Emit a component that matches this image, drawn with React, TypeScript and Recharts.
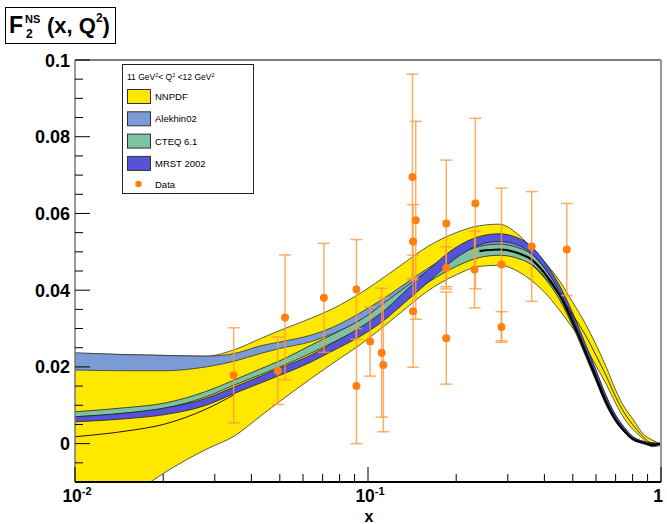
/*
 * F2^NS(x, Q^2) comparison of PDF sets (NNPDF, Alekhin02, CTEQ 6.1, MRST 2002)
 * against data, 11 GeV^2 < Q^2 < 12 GeV^2. Log x axis, uncertainty bands.
 */
import {
  Area,
  ComposedChart,
  ErrorBar,
  Line,
  ReferenceLine,
  Scatter,
  XAxis,
  YAxis,
} from 'recharts';

const FONT = '"Liberation Sans", Arial, Helvetica, sans-serif';
const PLOT_LEFT = 75;
const PLOT_BOTTOM = 482;

// x grid shared by all bands
const xGrid = [
  0.01, 0.015, 0.02, 0.028, 0.035, 0.043, 0.05, 0.064, 0.075, 0.1, 0.115, 0.13, 0.16, 0.2,
  0.24, 0.28, 0.33, 0.36, 0.4, 0.45, 0.5, 0.55, 0.6, 0.65, 0.7, 0.75, 0.8, 0.87, 0.93, 1.0,
];

const nnpdfLo = [
  -0.025, -0.0145, -0.0078, -0.0015, 0.002, 0.0072, 0.011, 0.017, 0.0207, 0.0273, 0.031,
  0.0343, 0.0398, 0.044, 0.0462, 0.0465, 0.0446, 0.0426, 0.0395, 0.0348, 0.0301, 0.0255,
  0.0203, 0.0155, 0.0105, 0.0065, 0.0038, 0.0012, -0.0008, -0.0005,
];
const nnpdfHi = [
  0.0235, 0.0232, 0.023, 0.0228, 0.0245, 0.0274, 0.0295, 0.0327, 0.035, 0.0405, 0.0437,
  0.0466, 0.0514, 0.055, 0.0568, 0.0572, 0.0541, 0.0512, 0.0474, 0.0425, 0.0368, 0.0315,
  0.0258, 0.02, 0.014, 0.0095, 0.0065, 0.0025, 0.001, 0.0,
];

const alekhinLo = [
  0.0192, 0.019, 0.019, 0.02, 0.0215, 0.0235, 0.0248, 0.0266, 0.0285, 0.0333, 0.0362,
  0.039, 0.0435, 0.048, 0.0505, 0.0512, 0.0502, 0.0486, 0.0448, 0.0388, 0.0318, 0.0245,
  0.0178, 0.0112, 0.0065, 0.0035, 0.0014, 0.0003, 0.0, 0.0,
];
const alekhinHi = [
  0.0237, 0.0232, 0.023, 0.0228, 0.0235, 0.0255, 0.0265, 0.0283, 0.0302, 0.0353, 0.0382,
  0.041, 0.0457, 0.05, 0.0524, 0.053, 0.052, 0.0503, 0.0465, 0.0404, 0.0332, 0.0258,
  0.019, 0.0122, 0.0073, 0.0042, 0.0019, 0.0006, 0.0002, 0.0,
];

const cteqLo = [
  0.007, 0.008, 0.0092, 0.0122, 0.0153, 0.018, 0.02, 0.0236, 0.0262, 0.031, 0.0343, 0.0373,
  0.042, 0.0462, 0.0485, 0.0491, 0.0481, 0.0467, 0.0432, 0.0376, 0.0306, 0.0232, 0.0163,
  0.01, 0.0057, 0.003, 0.0011, 0.0002, 0.0, 0.0,
];
const cteqHi = [
  0.0083, 0.0094, 0.0105, 0.0136, 0.0166, 0.0195, 0.0216, 0.0257, 0.0283, 0.0335, 0.037,
  0.04, 0.045, 0.0492, 0.0514, 0.052, 0.0509, 0.0495, 0.0458, 0.0399, 0.0326, 0.025,
  0.0178, 0.0112, 0.0066, 0.0036, 0.0015, 0.0004, 0.0001, 0.0,
];

const mrstLo = [
  0.0057, 0.0065, 0.0075, 0.01, 0.0131, 0.0158, 0.0178, 0.0213, 0.024, 0.0292, 0.0325,
  0.036, 0.042, 0.0484, 0.0518, 0.0527, 0.0515, 0.0497, 0.0458, 0.0397, 0.0326, 0.025,
  0.018, 0.0115, 0.0067, 0.0036, 0.0015, 0.0003, 0.0, 0.0,
];
const mrstHi = [
  0.007, 0.008, 0.0092, 0.0118, 0.0148, 0.0176, 0.0197, 0.0231, 0.026, 0.0316, 0.035,
  0.0388, 0.0452, 0.0512, 0.054, 0.0547, 0.0534, 0.0515, 0.0475, 0.0413, 0.034, 0.0263,
  0.0192, 0.0125, 0.0075, 0.0042, 0.0019, 0.0006, 0.0002, 0.0,
];

// thin black line in the lower yellow region, and the thick central curve
const innerLine = [
  0.0018, 0.0033, 0.005, 0.009, 0.0128, null, null, null, null, null, null, null, null, null,
  null, null, null, null, null, null, null, null, null, null, null, null, null, null, null, null,
];
const centralLine = [
  null, null, null, null, null, null, null, null, null, null, null, null, null, null,
  0.0502, 0.0506, 0.0495, 0.0481, 0.0445, 0.0388, 0.0316, 0.0241, 0.0171, 0.0107, 0.0062,
  0.0032, 0.0012, 0.0002, -0.0004, 0.0,
];
const nnpdfCentral = [
  null, null, null, null, null, null, null, null, null, null, null, null, null, null, null,
  null, null, 0.047, 0.0436, 0.0386, 0.0335, 0.0285, 0.023, 0.0177, 0.0122, 0.008, 0.005,
  0.0018, 0.0001, 0.0,
];

// measured points
const dataX = [
  0.0348, 0.0492, 0.0521, 0.0707, 0.0913, 0.0913, 0.1017, 0.1113, 0.1128, 0.1418, 0.1455,
  0.1425, 0.1425, 0.185, 0.185, 0.185, 0.2325, 0.231, 0.2855, 0.2855, 0.362, 0.477,
];
const dataY = [
  0.0178, 0.019, 0.0329, 0.038, 0.0402, 0.015, 0.0266, 0.0237, 0.0205, 0.0695, 0.0582,
  0.0527, 0.0345, 0.0574, 0.0458, 0.0275, 0.0626, 0.0454, 0.0467, 0.0304, 0.0514, 0.0506,
];
const dataErr = [
  0.0124, 0.0088, 0.0163, 0.0142, 0.013, 0.015, 0.009, 0.0168, 0.0174, 0.0268, 0.0258,
  0.0096, 0.0146, 0.0165, 0.0055, 0.012, 0.0222, 0.01, 0.0199, 0.004, 0.0143, 0.012,
];

const xTicks = [
  0.01, 0.02, 0.03, 0.04, 0.05, 0.06, 0.07, 0.08, 0.09, 0.1, 0.2, 0.3, 0.4, 0.5, 0.6, 0.7,
  0.8, 0.9, 1,
];
const xMajor: Record<string, string | null> = { '0.01': '-2', '0.1': '-1', '1': null };
const yTicks = [
  -0.01, -0.005, 0, 0.005, 0.01, 0.015, 0.02, 0.025, 0.03, 0.035, 0.04, 0.045, 0.05, 0.055,
  0.06, 0.065, 0.07, 0.075, 0.08, 0.085, 0.09, 0.095, 0.1,
];
const yMajor: Record<string, string> = {
  '0': '0', '0.02': '0.02', '0.04': '0.04', '0.06': '0.06', '0.08': '0.08', '0.1': '0.1',
};

const COLORS = {
  nnpdf: '#FFE800',
  alekhin: '#7B9BD6',
  cteq: '#7DC2A3',
  mrst: '#5553D8',
  data: '#FF8010',
};

const bandData = xGrid.map((x, i) => ({
  x,
  nnpdf: [nnpdfLo[i], nnpdfHi[i]],
  alekhin: [alekhinLo[i], alekhinHi[i]],
  cteq: [cteqLo[i], cteqHi[i]],
  mrst: [mrstLo[i], mrstHi[i]],
  inner: innerLine[i],
  central: centralLine[i],
  nnCentral: nnpdfCentral[i],
}));

const points = dataX.map((x, i) => ({ x, y: dataY[i], err: dataErr[i] }));

function XTick(props: any) {
  const { x, payload } = props;
  const v = String(payload.value);
  const major = v in xMajor;
  const exp = xMajor[v];
  return (
    <g>
      <line x1={x} x2={x} y1={PLOT_BOTTOM} y2={PLOT_BOTTOM - (major ? 15 : 8)} stroke="#000" />
      {major && (
        <text
          x={exp ? x + 2 : x - 3}
          y={502}
          textAnchor="middle"
          fontFamily={FONT}
          fontWeight="bold"
          fontSize={17.5}
          fill="#000"
        >
          {exp ? '10' : '1'}
          {exp && (
            <tspan dy={-7} fontSize={11}>
              {exp}
            </tspan>
          )}
        </text>
      )}
    </g>
  );
}

function YTick(props: any) {
  const { y, payload } = props;
  const key = String(Math.round(payload.value * 1000) / 1000);
  const label = yMajor[key];
  return (
    <g>
      <line x1={PLOT_LEFT} x2={PLOT_LEFT + (label ? 15 : 8)} y1={y} y2={y} stroke="#000" />
      {label && (
        <text
          x={70}
          y={y + 6.5}
          textAnchor="end"
          fontFamily={FONT}
          fontWeight="bold"
          fontSize={18}
          fill="#000"
        >
          {label}
        </text>
      )}
    </g>
  );
}

const legendItems = [
  { name: 'NNPDF', color: COLORS.nnpdf },
  { name: 'Alekhin02', color: COLORS.alekhin },
  { name: 'CTEQ 6.1', color: COLORS.cteq },
  { name: 'MRST 2002', color: COLORS.mrst },
];

function Overlay() {
  return (
    <svg
      width={667}
      height={524}
      style={{ position: 'absolute', left: 0, top: 0, pointerEvents: 'none' }}
    >
      {/* title box */}
      <rect x={5.5} y={7.5} width={110} height={36} fill="#fff" stroke="#000" />
      <g fontFamily={FONT} fontWeight="bold" fill="#000">
        <text x={9} y={33} fontSize={23}>F</text>
        <text x={25} y={23} fontSize={11}>NS</text>
        <text x={26} y={38} fontSize={12}>2</text>
        <text x={47} y={33} fontSize={22}>
          (x, Q
          <tspan dy={-11} fontSize={12}>2</tspan>
          <tspan dy={11}>)</tspan>
        </text>
      </g>

      {/* legend */}
      <rect x={122.5} y={64.5} width={131} height={129} fill="#fff" stroke="#222" />
      <g fontFamily={FONT} fill="#000">
        <text x={127} y={80} fontSize={8.5}>
          11 GeV
          <tspan dy={-3} fontSize={5.5}>2</tspan>
          <tspan dy={3}>{'< Q'}</tspan>
          <tspan dy={-3} fontSize={5.5}>2</tspan>
          <tspan dy={3}>{' <12 GeV'}</tspan>
          <tspan dy={-3} fontSize={5.5}>2</tspan>
        </text>
        {legendItems.map((it, i) => {
          const top = 89.5 + i * 22.3;
          return (
            <g key={it.name}>
              <rect x={127.5} y={top} width={23} height={14} fill={it.color} stroke="#333" />
              <text x={155} y={top + 10.5} fontSize={9.5}>
                {it.name}
              </text>
            </g>
          );
        })}
        <circle cx={138.5} cy={184} r={3.2} fill={COLORS.data} />
        <text x={155} y={187.5} fontSize={9.5}>
          Data
        </text>
      </g>

      {/* axis title */}
      <text
        x={369}
        y={522}
        textAnchor="middle"
        fontFamily={FONT}
        fontWeight="bold"
        fontSize={16}
        fill="#000"
      >
        x
      </text>
    </svg>
  );
}

export default function App() {
  return (
    <div style={{ position: 'absolute', left: 0, top: 0, width: 667, height: 524, background: '#fff' }}>
      <ComposedChart
        width={667}
        height={524}
        data={bandData}
        margin={{ top: 60, right: 6, bottom: 0, left: 0 }}
      >
        <XAxis
          dataKey="x"
          type="number"
          scale="log"
          domain={[0.01, 1]}
          allowDataOverflow
          ticks={xTicks}
          interval={0}
          height={42}
          tickLine={false}
          axisLine={{ stroke: '#000', strokeWidth: 2 }}
          tick={(p: any) => <XTick {...p} />}
        />
        <YAxis
          type="number"
          domain={[-0.01, 0.1]}
          allowDataOverflow
          ticks={yTicks}
          interval={0}
          width={75}
          tickLine={false}
          axisLine={{ stroke: '#777', strokeWidth: 1.5 }}
          tick={(p: any) => <YTick {...p} />}
        />
        <Area
          type="monotone"
          dataKey="nnpdf"
          fill={COLORS.nnpdf}
          fillOpacity={1}
          stroke="#333"
          strokeWidth={0.8}
          isAnimationActive={false}
          activeDot={false}
        />
        <Area
          type="monotone"
          dataKey="alekhin"
          fill={COLORS.alekhin}
          fillOpacity={1}
          stroke="#333"
          strokeWidth={0.8}
          isAnimationActive={false}
          activeDot={false}
        />
        <Area
          type="monotone"
          dataKey="cteq"
          fill={COLORS.cteq}
          fillOpacity={1}
          stroke="#222"
          strokeWidth={0.8}
          isAnimationActive={false}
          activeDot={false}
        />
        <Area
          type="monotone"
          dataKey="mrst"
          fill={COLORS.mrst}
          fillOpacity={1}
          stroke="#222"
          strokeWidth={0.8}
          isAnimationActive={false}
          activeDot={false}
        />
        <Line
          type="monotone"
          dataKey="inner"
          stroke="#000"
          strokeWidth={0.9}
          dot={false}
          activeDot={false}
          isAnimationActive={false}
        />
        <Line
          type="monotone"
          dataKey="nnCentral"
          stroke="#222"
          strokeWidth={0.9}
          dot={false}
          activeDot={false}
          isAnimationActive={false}
        />
        <Line
          type="monotone"
          dataKey="central"
          stroke="#000"
          strokeWidth={2.2}
          dot={false}
          activeDot={false}
          isAnimationActive={false}
        />
        <ReferenceLine y={0.1} stroke="#000" strokeWidth={1} />
        <ReferenceLine x={1} stroke="#999" strokeWidth={2} />
        <Scatter
          data={points}
          dataKey="y"
          isAnimationActive={false}
          shape={(p: any) => <circle cx={p.cx} cy={p.cy} r={4} fill={COLORS.data} />}
        >
          <ErrorBar
            dataKey="err"
            direction="y"
            width={6}
            stroke="#FF9A40"
            strokeOpacity={0.8}
            strokeWidth={1.5}
            isAnimationActive={false}
          />
        </Scatter>
      </ComposedChart>
      <Overlay />
    </div>
  );
}
